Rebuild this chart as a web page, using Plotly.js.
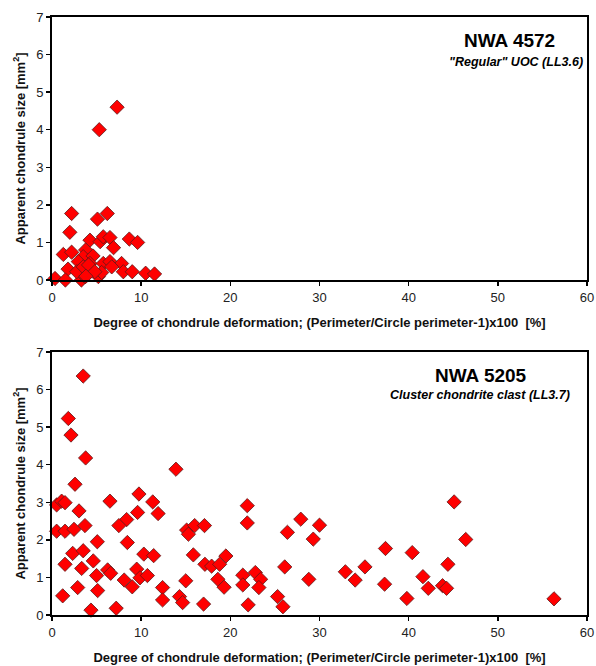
<!DOCTYPE html>
<html><head>
<meta charset="utf-8">
<script src="https://cdn.plot.ly/plotly-3.0.1.min.js"></script>
</head>
<body style="margin:0;background:#fff">
<div id="chart" style="width:596px;height:666px"></div>
<script>
// NWA 4572 — deformation (%) vs apparent chondrule size (mm²)
const nwa4572_x = [7.3,5.3,2.2,5.1,6.2,2.0,4.26,5.4,5.75,6.5,8.67,9.6,6.9,1.27,2.2,3.77,3.5,4.6,1.8,2.95,4.26,5.75,6.5,7.8,6.7,8.0,9.0,10.5,11.5,0.34,1.5,3.1,3.3,3.7,4.26,5.2,5.57,2.77,3.5,4.1,4.8,3.8];
const nwa4572_y = [4.6,4.0,1.77,1.62,1.77,1.27,1.06,1.02,1.15,1.13,1.09,1.0,0.86,0.68,0.74,0.8,0.62,0.64,0.29,0.49,0.44,0.44,0.49,0.44,0.35,0.22,0.22,0.18,0.16,0.04,0.0,0.22,0.0,0.09,0.27,0.09,0.2,0.22,0.35,0.4,0.22,0.1];

// NWA 5205
const nwa5205_x = [3.5,1.83,2.13,3.77,13.9,2.58,0.52,1.08,1.46,6.5,9.75,11.3,3.03,9.6,11.9,8.37,7.5,3.7,0.52,1.46,2.47,15.1,16.0,15.3,5.08,8.45,2.32,3.5,10.3,11.4,15.85,1.46,4.63,3.33,6.24,6.58,5.0,9.5,9.87,10.7,8.1,9.0,15.0,2.88,5.12,12.4,1.2,14.3,14.65,12.4,4.37,7.2,
  21.9,21.9,17.1,27.9,30.0,26.4,29.3,37.4,19.5,17.15,17.9,18.8,26.1,21.4,22.8,23.4,18.6,19.3,21.4,23.2,28.8,32.9,34.0,35.1,37.3,17.0,22.0,25.3,25.9,
  45.1,46.4,40.4,44.4,41.6,42.2,43.8,44.25,39.8,56.3];
const nwa5205_y = [6.36,5.23,4.79,4.18,3.88,3.48,2.93,3.03,2.99,3.03,3.22,3.01,2.77,2.73,2.7,2.54,2.38,2.38,2.23,2.23,2.28,2.26,2.38,2.15,1.95,1.93,1.64,1.71,1.62,1.58,1.6,1.35,1.44,1.24,1.2,1.11,1.05,1.22,0.99,1.05,0.93,0.75,0.91,0.73,0.65,0.73,0.51,0.49,0.33,0.4,0.13,0.18,
  2.91,2.45,2.38,2.55,2.39,2.2,2.02,1.77,1.57,1.35,1.3,1.35,1.28,1.06,1.13,0.95,0.95,0.74,0.8,0.73,0.95,1.15,0.93,1.28,0.82,0.29,0.27,0.49,0.22,
  3.01,2.01,1.66,1.35,1.02,0.71,0.78,0.71,0.44,0.43];

const xTicks = [0,10,20,30,40,50,60];
const yTicks = [0,1,2,3,4,5,6,7];
const xTitle = "Degree of chondrule deformation; (Perimeter/Circle perimeter-1)x100  [%]";
const yTitle = "Apparent chondrule size [mm<sup>2</sup>]";

const FONT = "Liberation Sans, Arial, sans-serif";
const marker = {symbol:'diamond', size:11, color:'#ff0000', line:{color:'#5a1a1a', width:0.8}};

const traces = [
  {x:nwa4572_x, y:nwa4572_y, type:'scatter', mode:'markers', marker:marker, xaxis:'x', yaxis:'y', cliponaxis:false, hoverinfo:'x+y'},
  {x:nwa5205_x, y:nwa5205_y, type:'scatter', mode:'markers', marker:marker, xaxis:'x2', yaxis:'y2', cliponaxis:false, hoverinfo:'x+y'}
];

function xa(anchor){
  return {anchor:anchor, range:[0,60], tickvals:xTicks, ticks:'outside', ticklen:4, tickwidth:1.5, tickcolor:'#000',
    showline:true, linecolor:'#000', linewidth:2, mirror:true, showgrid:false, zeroline:false,
    tickfont:{family:FONT, size:13, color:'#222'},
    title:{text:'<b>'+xTitle+'</b>', font:{family:FONT, size:13, color:'#111'}, standoff:14}};
}
function ya(anchor, domain){
  return {anchor:anchor, domain:domain, range:[0,7], tickvals:yTicks, ticks:'outside', ticklen:4, tickwidth:1.5, tickcolor:'#000',
    showline:true, linecolor:'#000', linewidth:2, mirror:true, showgrid:false, zeroline:false,
    tickfont:{family:FONT, size:13, color:'#222'},
    title:{text:'<b>'+yTitle+'</b>', font:{family:FONT, size:13, color:'#111'}, standoff:8}};
}

const layout = {
  width:596, height:666, margin:{l:52, r:9, t:17, b:51},
  paper_bgcolor:'#fff', plot_bgcolor:'#fff', showlegend:false,
  xaxis: xa('y'), yaxis: ya('x', [0.5602,1]),
  xaxis2: xa('y2'), yaxis2: ya('x2', [0,0.4398]),
  annotations:[
    {xref:'x', yref:'y', x:51.3, y:6.38, text:'<b>NWA 4572</b>', showarrow:false, font:{family:FONT, size:19, color:'#000'}},
    {xref:'x', yref:'y', x:59.8, y:5.8, xanchor:'right', text:'<i><b>"Regular" UOC (LL3.6)</b></i>', showarrow:false, font:{family:FONT, size:12.5, color:'#000'}},
    {xref:'x2', yref:'y2', x:48.1, y:6.38, text:'<b>NWA 5205</b>', showarrow:false, font:{family:FONT, size:19, color:'#000'}},
    {xref:'x2', yref:'y2', x:48.0, y:5.85, text:'<i><b>Cluster chondrite clast (LL3.7)</b></i>', showarrow:false, font:{family:FONT, size:12.5, color:'#000'}}
  ]
};

Plotly.newPlot('chart', traces, layout, {displayModeBar:false, staticPlot:true});
</script>
</body></html>
